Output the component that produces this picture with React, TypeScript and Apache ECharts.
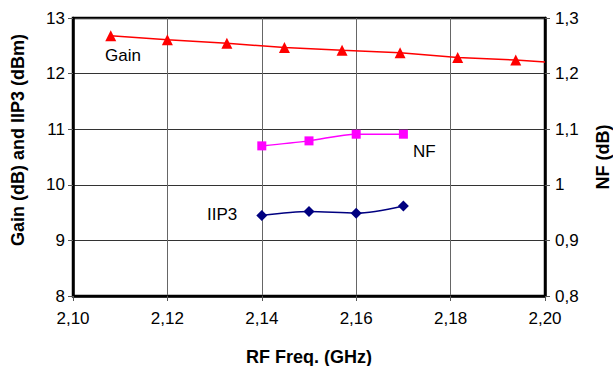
import React, { useEffect, useRef } from "react";
import * as echarts from "echarts";

const gainFreq = [2.108, 2.12, 2.1326, 2.1448, 2.157, 2.1693, 2.1815, 2.1938, 2.2];
const gainVals = [12.68, 12.61, 12.545, 12.47, 12.42, 12.375, 12.29, 12.245, 12.21];
const nfFreq = [2.14, 2.15, 2.16, 2.17];
const nfVals = [1.07, 1.079, 1.091, 1.091];
const iip3Freq = [2.14, 2.15, 2.16, 2.17];
const iip3Vals = [9.45, 9.52, 9.49, 9.62];

const xTitle = "RF Freq. (GHz)";
const leftTitle = "Gain (dB) and IIP3 (dBm)";
const rightTitle = "NF (dB)";

const FONT = "'Liberation Sans', Arial, sans-serif";
const FS = 17;

const comma = (v: number, d: number) => {
  const s = d === 0 ? String(Math.round(v)) : String(parseFloat(v.toFixed(d)));
  return s.replace(".", ",");
};

export default function App() {
  const ref = useRef<HTMLDivElement>(null);
  useEffect(() => {
    if (!ref.current) return;
    const chart = echarts.init(ref.current, undefined, { renderer: "svg" });
    const lastG = gainFreq.length - 1;
    chart.setOption({
      animation: false,
      backgroundColor: "#fff",
      grid: {
        left: 73,
        right: 68,
        top: 18,
        bottom: 70,
        show: true,
        borderColor: "#000",
        borderWidth: 2.5,
        backgroundColor: "transparent",
      },
      xAxis: {
        type: "value",
        min: 2.1,
        max: 2.2,
        interval: 0.02,
        axisLine: { show: true, lineStyle: { color: "#000", width: 2.5 } },
        axisTick: { show: true, length: 5, lineStyle: { color: "#555", width: 1 } },
        axisLabel: {
          formatter: (v: number) => comma(v, 2).length === 3 ? comma(v, 2) + "0" : comma(v, 2),
          color: "#000",
          fontFamily: FONT,
          fontSize: FS,
          margin: 14,
        },
        splitLine: { show: true, lineStyle: { color: "#666", width: 1 } },
      },
      yAxis: [
        {
          type: "value",
          min: 8,
          max: 13,
          interval: 1,
          axisLine: { show: true, lineStyle: { color: "#000", width: 2.5 } },
          axisTick: { show: true, length: 5, lineStyle: { color: "#555", width: 1 } },
          axisLabel: { color: "#000", fontFamily: FONT, fontSize: FS, margin: 8 },
          splitLine: { show: true, lineStyle: { color: "#333", width: 1 } },
        },
        {
          type: "value",
          min: 0.8,
          max: 1.3,
          interval: 0.1,
          position: "right",
          axisLine: { show: true, lineStyle: { color: "#000", width: 2.5 } },
          axisTick: { show: true, length: 5, lineStyle: { color: "#555", width: 1 } },
          axisLabel: {
            formatter: (v: number) => comma(v, 1),
            color: "#000",
            fontFamily: FONT,
            fontSize: FS,
            margin: 10,
          },
          splitLine: { show: false },
        },
      ],
      series: [
        {
          name: "Gain",
          type: "line",
          yAxisIndex: 0,
          data: gainFreq.map((f, i) =>
            i === lastG ? { value: [f, gainVals[i]], symbol: "none" } : [f, gainVals[i]]
          ),
          symbol: "triangle",
          symbolSize: 11,
          lineStyle: { color: "#ff0000", width: 1.5 },
          itemStyle: { color: "#ff0000" },
        },
        {
          name: "NF",
          type: "line",
          yAxisIndex: 1,
          smooth: 0.3,
          data: nfFreq.map((f, i) => [f, nfVals[i]]),
          symbol: "rect",
          symbolSize: 9,
          lineStyle: { color: "#ff00ff", width: 1.5 },
          itemStyle: { color: "#ff00ff" },
        },
        {
          name: "IIP3",
          type: "line",
          yAxisIndex: 0,
          smooth: 0.3,
          data: iip3Freq.map((f, i) => [f, iip3Vals[i]]),
          symbol: "diamond",
          symbolSize: 11,
          lineStyle: { color: "#000080", width: 1.5 },
          itemStyle: { color: "#000080" },
        },
      ],
      graphic: [
        { type: "text", left: 105, top: 47, style: { text: "Gain", fontFamily: FONT, fontSize: FS, fill: "#000" } },
        { type: "text", left: 413, top: 143, style: { text: "NF", fontFamily: FONT, fontSize: FS, fill: "#000" } },
        { type: "text", left: 207, top: 206, style: { text: "IIP3", fontFamily: FONT, fontSize: FS, fill: "#000" } },
        {
          type: "text",
          x: 309,
          y: 357,
          style: { text: xTitle, fontFamily: FONT, fontSize: 18, fontWeight: "bold", fill: "#000", align: "center", verticalAlign: "middle" },
        },
        {
          type: "text",
          x: 18,
          y: 140,
          rotation: Math.PI / 2,
          style: { text: leftTitle, fontFamily: FONT, fontSize: 18, fontWeight: "bold", fill: "#000", align: "center", verticalAlign: "middle" },
        },
        {
          type: "text",
          x: 603,
          y: 157,
          rotation: Math.PI / 2,
          style: { text: rightTitle, fontFamily: FONT, fontSize: 18, fontWeight: "bold", fill: "#000", align: "center", verticalAlign: "middle" },
        },
      ],
    });
    return () => chart.dispose();
  }, []);
  return (
    <div
      ref={ref}
      style={{ position: "absolute", left: 0, top: 0, width: 613, height: 366 }}
    />
  );
}
